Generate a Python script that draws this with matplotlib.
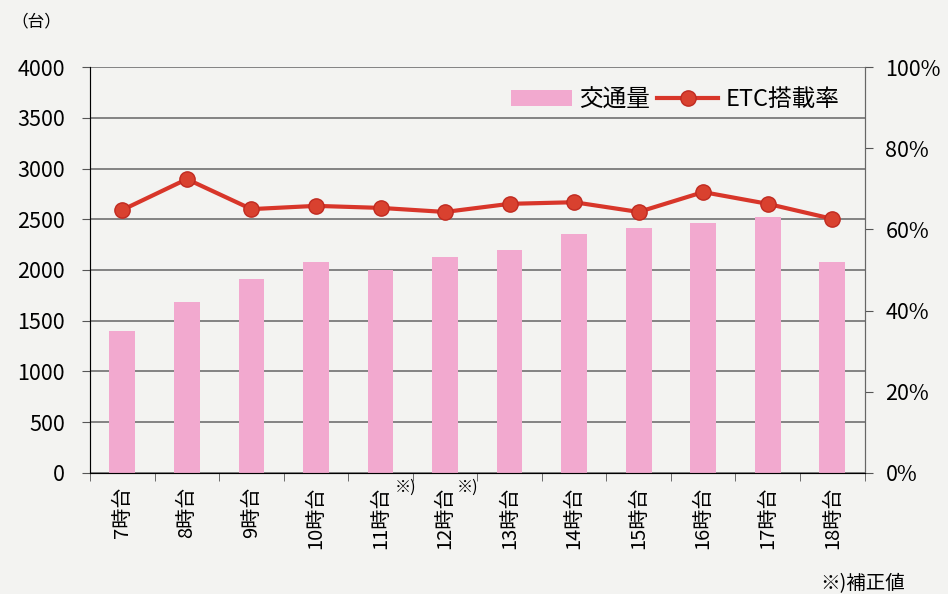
import numpy as np
import matplotlib.pyplot as plt

plt.rcParams['font.family'] = ['Noto Sans CJK JP', 'DejaVu Sans']

hours = ['7時台', '8時台', '9時台', '10時台', '11時台', '12時台',
         '13時台', '14時台', '15時台', '16時台', '17時台', '18時台']
traffic = [1400, 1680, 1910, 2080, 2000, 2130, 2200, 2350, 2410, 2460, 2520, 2080]
etc_rate = [64.8, 72.4, 65.0, 65.8, 65.3, 64.3, 66.3, 66.7, 64.3, 69.2, 66.3, 62.6]

bg = '#f3f3f1'
fig = plt.figure(figsize=(9.48, 5.94), dpi=100, facecolor=bg)
ax = fig.add_axes([0.095, 0.204, 0.817, 0.683], facecolor=bg)
x = np.arange(len(hours))

ax.bar(x, traffic, width=0.4, color='#f2a9cf', label='交通量', zorder=2)
ax.set_ylim(0, 4000)
ax.set_xlim(-0.5, len(hours) - 0.5)
ax.set_yticks(np.arange(0, 4001, 500))
ax.yaxis.grid(True, color='#707070', linewidth=1.2, zorder=0)
ax.tick_params(axis='y', labelsize=15.5, length=6, pad=12, color='#555555')
ax.set_xticks(x)
ax.set_xticklabels(hours, rotation=90, fontsize=14.5)
ax.set_xticks(np.arange(-0.5, len(hours)), minor=True)
ax.tick_params(axis='x', which='major', length=0, pad=10)
ax.tick_params(axis='x', which='minor', length=6, color='#555555')
ax.spines['top'].set_visible(False)
for s in ['left', 'bottom', 'right']:
    ax.spines[s].set_color('#666666')

ax2 = ax.twinx()
ax2.plot(x, etc_rate, color='#d8362a', linewidth=3, marker='o', markersize=11,
         markerfacecolor='#d9412f', markeredgecolor='#c02a20', label='ETC搭載率', zorder=3)
ax2.set_ylim(0, 100)
ax2.set_yticks(np.arange(0, 101, 20))
ax2.set_yticklabels([f'{v}%' for v in range(0, 101, 20)])
ax2.tick_params(axis='y', labelsize=15.5, length=6, pad=9, color='#555555')
ax2.spines['top'].set_visible(False)
ax2.spines['right'].set_color('#666666')

h1, l1 = ax.get_legend_handles_labels()
h2, l2 = ax2.get_legend_handles_labels()
ax2.legend(h1 + h2, l1 + l2, loc='upper right', bbox_to_anchor=(0.995, 1.0), ncol=2,
           frameon=False, fontsize=17, handlelength=2.6, columnspacing=0.3,
           handletextpad=0.3)

fig.text(0.012, 0.955, '（台）', fontsize=12)
ax.text(4.22, -60, '※)', fontsize=11.5, va='top')
ax.text(5.18, -60, '※)', fontsize=11.5, va='top')
fig.text(0.955, 0.0, '※)補正値', fontsize=14, ha='right', va='bottom')

fig.savefig('out.png', dpi=100, facecolor=bg)
